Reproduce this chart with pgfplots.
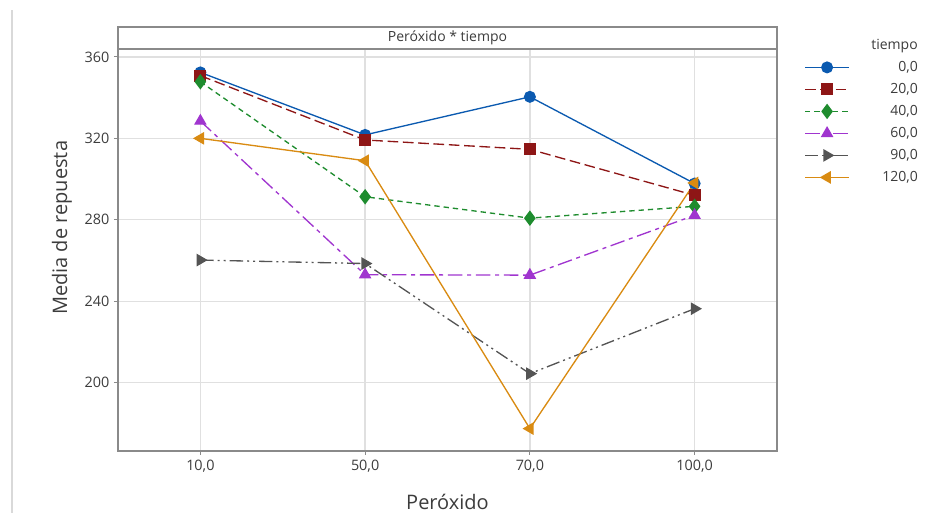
\documentclass[border=0pt]{standalone}
\usepackage{fontspec}
\setmainfont{Open Sans}
\usepackage{pgfplots}
\pgfplotsset{compat=1.18}
\definecolor{c0}{HTML}{0B5AB0}
\definecolor{c20}{HTML}{8E1616}
\definecolor{c40}{HTML}{1E8C2E}
\definecolor{c60}{HTML}{A035CF}
\definecolor{c90}{HTML}{545454}
\definecolor{c120}{HTML}{D98B12}
\definecolor{txt}{HTML}{3C3C3C}
\definecolor{frame}{HTML}{8A8A8A}
\definecolor{gridc}{HTML}{E0E0E0}

\begin{document}
\begin{tikzpicture}
% 1px = 0.75pt, axis box lower left at origin
\useasboundingbox (-88.5pt,-46.5pt) rectangle (618pt,338.25pt);
\draw[gray!30,line width=0.8pt] (-79.5pt,-46.5pt) -- (-79.5pt,330.75pt);
\begin{axis}[name=ax,at={(0,0)},anchor=south west,scale only axis,
  width=494.25pt,height=301.5pt,
  xmin=-0.5,xmax=3.5,ymin=166.4,ymax=363.9,
  xtick={0,1,2,3},xticklabels={{10,0},{50,0},{70,0},{100,0}},
  ytick={200,240,280,320,360},
  /pgf/number format/assume math mode=true,
  grid=major,grid style={draw=gridc,line width=1pt},
  axis line style={draw=frame,line width=0.9pt},
  tick align=outside,tick pos=left,major tick length=3pt,
  tick style={draw=frame,line width=0.7pt},
  tick label style={font=\fontsize{10.8}{12}\selectfont,text=txt},
  xlabel={Peróxido},ylabel={Media de repuesta},
  every axis x label/.style={at={(axis description cs:0.5,-0.127)},anchor=center,
    font=\fontsize{15}{17}\selectfont,text=txt},
  every axis y label/.style={at={(axis description cs:-0.085,0.555)},rotate=90,anchor=center,
    font=\fontsize{15}{17}\selectfont,text=txt},
  legend image code/.code={\draw[mark repeat=2,mark phase=2]
    plot coordinates {(0pt,0pt)(16.5pt,0pt)(33pt,0pt)};},
  legend style={at={(1.214,1.027)},anchor=north east,draw=none,fill=none,
    inner sep=0pt,row sep=6pt,
    font=\fontsize{10.5}{12}\selectfont,
    nodes={inner sep=0pt,text width=51pt,align=right,text height=8pt,text depth=2.5pt}},
  every axis plot/.append style={line width=1pt}]
\addlegendimage{empty legend}
\addlegendentry{\textcolor{txt}{tiempo}}
\addplot[c0,mark=*,mark size=4pt] coordinates
  {(0,352.4)(1,321.7)(2,340.4)(3,297.8)};
\addlegendentry{\textcolor{txt}{0,0}}
\addplot[c20,dash pattern=on 8pt off 3.5pt,mark=square*,mark size=4pt,
  mark options={solid}] coordinates
  {(0,350.8)(1,319.2)(2,314.6)(3,292.0)};
\addlegendentry{\textcolor{txt}{20,0}}
\addplot[c40,dash pattern=on 4pt off 3pt,mark=diamond*,mark size=5pt,
  mark options={solid}] coordinates
  {(0,347.8)(1,291.3)(2,280.8)(3,286.6)};
\addlegendentry{\textcolor{txt}{40,0}}
\addplot[c60,dash pattern=on 11pt off 3.5pt on 3pt off 3.5pt,mark=triangle*,mark size=4.5pt,
  mark options={solid}] coordinates
  {(0,328.5)(1,253.0)(2,252.8)(3,282.2)};
\addlegendentry{\textcolor{txt}{60,0}}
\addplot[c90,dash pattern=on 10pt off 3pt on 1.5pt off 3pt on 1.5pt off 3pt,mark=triangle*,
  mark size=4.5pt,mark options={solid,rotate=-90}] coordinates
  {(0,260.2)(1,258.5)(2,204.4)(3,236.3)};
\addlegendentry{\textcolor{txt}{90,0}}
\addplot[c120,mark=triangle*,mark size=4.5pt,mark options={solid,rotate=90}] coordinates
  {(0,320.0)(1,309.0)(2,177.4)(3,298.1)};
\addlegendentry{\textcolor{txt}{120,0}}
\end{axis}
\draw[frame,line width=0.9pt] (ax.north west) rectangle ([yshift=16.5pt]ax.north east);
\node[font=\fontsize{10.5}{12}\selectfont,text=txt] at ([yshift=8.25pt]ax.north) {Peróxido * tiempo};
\end{tikzpicture}
\end{document}
